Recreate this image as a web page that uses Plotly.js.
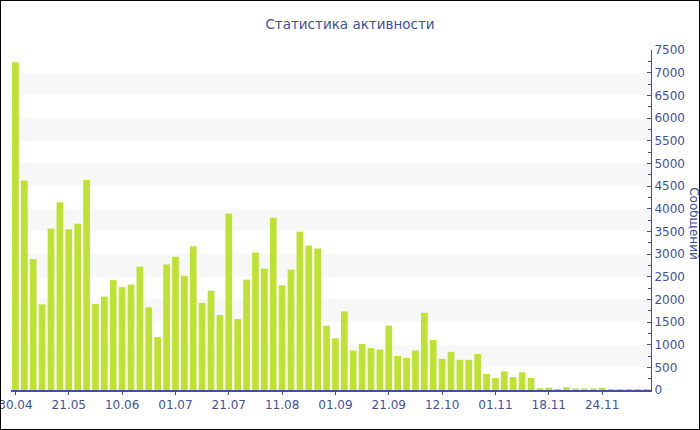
<!DOCTYPE html>
<html>
<head>
<meta charset="utf-8">
<script src="https://cdn.plot.ly/plotly-3.0.1.min.js"></script>
<style>
html,body{margin:0;padding:0;background:#fff;}
#chart{width:698px;height:428px;border:1px solid #000;overflow:hidden;}
</style>
</head>
<body>
<div id="chart"></div>
<script>
var title = 'Статистика активности';
var yTitle = 'Сообщений';
var tickLabels = ['30.04','21.05','10.06','01.07','21.07','11.08','01.09','21.09','12.10','01.11','18.11','24.11'];
var tickEvery = 6;
var messages = [
  7230, 4620, 2890, 1890, 3560, 4140, 3545, 3670, 4630, 1895,
  2060, 2425, 2270, 2325, 2720, 1825, 1170, 2770, 2940, 2520,
  3170, 1920, 2190, 1655, 3895, 1565, 2435, 3035, 2680, 3800,
  2310, 2655, 3490, 3190, 3120, 1420, 1140, 1735, 870, 1015,
  925, 895, 1420, 750, 705, 870, 1705, 1105, 685, 840,
  665, 665, 795, 355, 265, 410, 285, 390, 265, 40,
  50, 22, 60, 33, 33, 33, 50, 22, 22, 22,
  22, 22
];
var idx = messages.map(function(_, i){ return i; });
var tickVals = tickLabels.map(function(_, i){ return i * tickEvery; });

var blue = '#3f51a0';
var font = 'DejaVu Sans, Verdana, sans-serif';

var shapes = [];
for (var v = 500; v < 7500; v += 1000) {
  shapes.push({type:'rect', xref:'paper', yref:'y', x0:0, x1:1, y0:v, y1:v+500,
    fillcolor:'#f7f7f7', line:{width:0}, layer:'below'});
}

var data = [{
  type:'bar', x: idx, y: messages,
  marker:{color:'#bde232'},
  hoverinfo:'y'
}];

var layout = {
  width:698, height:428,
  margin:{l:10, r:48, t:49, b:39},
  paper_bgcolor:'#fff', plot_bgcolor:'rgba(0,0,0,0)',
  title:{text:title, font:{family:font, size:13.5, color:blue}, x:0.5, xanchor:'center', y:0.945, yanchor:'middle'},
  bargap:0.25,
  showlegend:false,
  xaxis:{
    range:[-0.5, messages.length - 0.5],
    tickmode:'array', tickvals:tickVals, ticktext:tickLabels,
    ticks:'outside', ticklen:3, tickcolor:blue,
    ticklabeloverflow:'allow',
    showline:true, linecolor:blue, linewidth:1.5,
    showgrid:false, zeroline:false,
    tickfont:{family:font, size:12, color:blue}
  },
  yaxis:{
    side:'right', range:[0,7500], dtick:500, tick0:0,
    ticks:'inside', ticklen:4, tickcolor:blue,
    minor:{dtick:250, ticks:'inside', ticklen:3, tickcolor:blue, showgrid:false},
    showline:true, linecolor:blue, linewidth:1,
    showgrid:false, zeroline:false,
    tickfont:{family:font, size:12, color:blue}
  },
  shapes: shapes,
  annotations:[{
    text:yTitle, textangle:90, showarrow:false,
    xref:'paper', yref:'paper', x:1.066, y:0.49, xanchor:'center', yanchor:'middle',
    font:{family:font, size:12, color:blue}
  }]
};

Plotly.newPlot('chart', data, layout, {displayModeBar:false, staticPlot:true});
</script>
</body>
</html>
